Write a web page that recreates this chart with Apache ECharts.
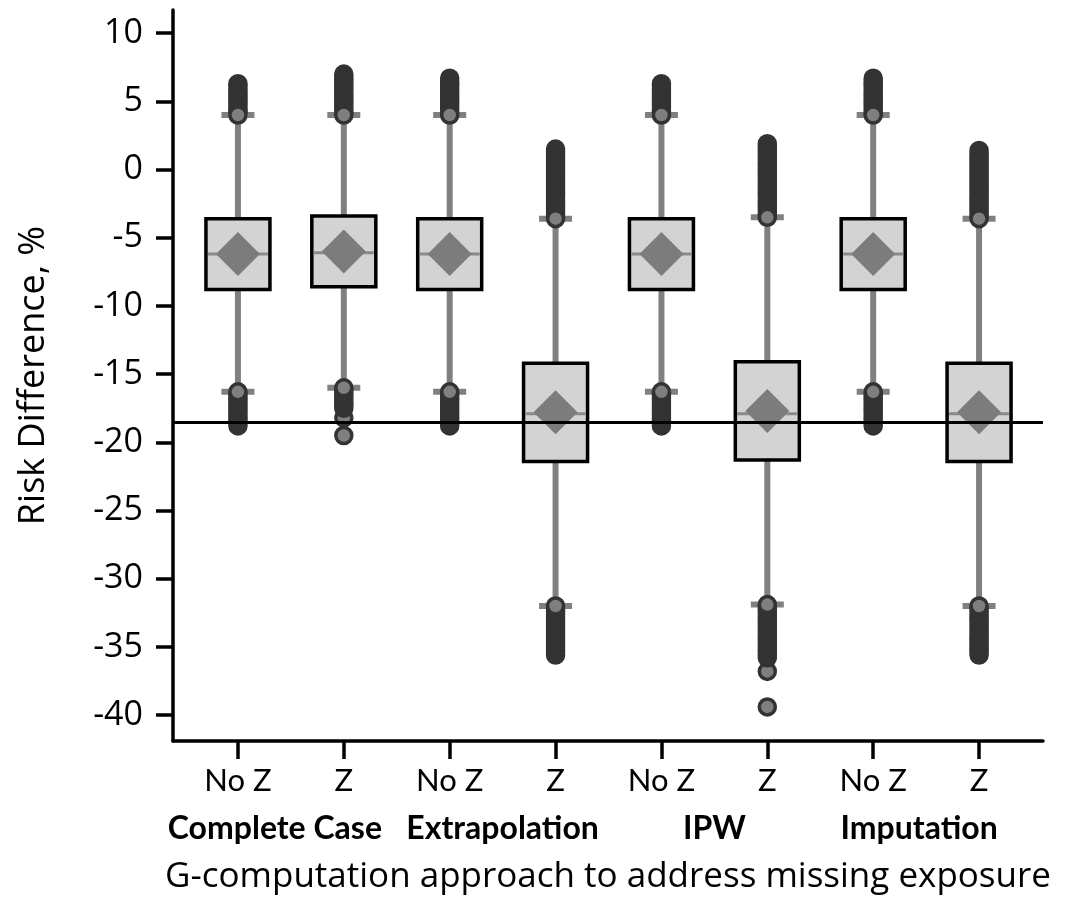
<!DOCTYPE html>
<html>
<head>
<meta charset="utf-8">
<script src="https://cdn.jsdelivr.net/npm/echarts@6/dist/echarts.min.js"></script>
<style>
html,body{margin:0;padding:0;background:#fff;}
#chart{width:1073px;height:901px;}
</style>
</head>
<body>
<div id="chart"></div>
<script>
// ---- Data ----
const categories = ['No Z', 'Z', 'No Z', 'Z', 'No Z', 'Z', 'No Z', 'Z'];
const groups = ['Complete Case', 'Extrapolation', 'IPW', 'Imputation'];
const yTicks = [10, 5, 0, -5, -10, -15, -20, -25, -30, -35, -40];

const lowWhisker  = [-16.3, -16.0, -16.3, -32.0, -16.3, -31.9, -16.3, -32.0];
const q1          = [-8.8, -8.6, -8.8, -21.4, -8.8, -21.3, -8.8, -21.4];
const median      = [-6.2, -6.1, -6.2, -17.9, -6.2, -17.9, -6.2, -17.9];
const q3          = [-3.6, -3.4, -3.6, -14.2, -3.6, -14.1, -3.6, -14.2];
const highWhisker = [4.0, 4.0, 4.0, -3.6, 4.0, -3.5, 4.0, -3.6];
const means       = [-6.2, -6.0, -6.2, -17.8, -6.2, -17.7, -6.2, -17.8];

// outliers listed from farthest to nearest the whisker
const upperOutliers = [
  [6.3, 6.1, 5.9, 5.7, 5.5, 5.3, 5.1, 4.9, 4.7, 4.5, 4.3, 4.2, 4.0],
  [7.0, 6.8, 6.6, 6.4, 6.2, 6.0, 5.8, 5.6, 5.4, 5.2, 5.0, 4.8, 4.6, 4.4, 4.2, 4.0],
  [6.7, 6.5, 6.3, 6.1, 5.9, 5.7, 5.5, 5.3, 5.1, 4.9, 4.7, 4.5, 4.3, 4.1, 4.0],
  [1.5, 1.3, 1.1, 0.9, 0.7, 0.5, 0.3, 0.1, -0.1, -0.3, -0.5, -0.7, -0.9, -1.1, -1.3, -1.5, -1.7, -1.9, -2.1, -2.3, -2.5, -2.7, -2.9, -3.1, -3.3, -3.5, -3.6],
  [6.3, 6.1, 5.9, 5.7, 5.5, 5.3, 5.1, 4.9, 4.7, 4.5, 4.3, 4.2, 4.0],
  [1.9, 1.7, 1.5, 1.3, 1.1, 0.9, 0.7, 0.5, 0.3, 0.1, -0.1, -0.3, -0.5, -0.7, -0.9, -1.1, -1.3, -1.5, -1.7, -1.9, -2.1, -2.3, -2.5, -2.7, -2.9, -3.1, -3.3, -3.5],
  [6.7, 6.5, 6.3, 6.1, 5.9, 5.7, 5.5, 5.3, 5.1, 4.9, 4.7, 4.5, 4.3, 4.1, 4.0],
  [1.4, 1.2, 1.0, 0.8, 0.6, 0.4, 0.2, 0.0, -0.2, -0.4, -0.6, -0.8, -1.0, -1.2, -1.4, -1.6, -1.8, -2.0, -2.2, -2.4, -2.6, -2.8, -3.0, -3.2, -3.4, -3.6]
];
const lowerOutliers = [
  [-18.8, -18.6, -18.4, -18.2, -18.0, -17.8, -17.6, -17.4, -17.2, -17.0, -16.8, -16.6, -16.4, -16.3],
  [-19.5, -18.2, -17.5, -17.3, -17.1, -16.9, -16.7, -16.5, -16.3, -16.1, -16.0],
  [-18.8, -18.6, -18.4, -18.2, -18.0, -17.8, -17.6, -17.4, -17.2, -17.0, -16.8, -16.6, -16.4, -16.3],
  [-35.6, -35.4, -35.2, -35.0, -34.8, -34.6, -34.4, -34.2, -34.0, -33.8, -33.6, -33.4, -33.2, -33.0, -32.8, -32.6, -32.4, -32.2, -32.0],
  [-18.8, -18.6, -18.4, -18.2, -18.0, -17.8, -17.6, -17.4, -17.2, -17.0, -16.8, -16.6, -16.4, -16.3],
  [-39.4, -36.8, -35.8, -35.6, -35.4, -35.2, -35.0, -34.8, -34.6, -34.4, -34.2, -34.0, -33.8, -33.6, -33.4, -33.2, -33.0, -32.8, -32.6, -32.4, -32.2, -32.0, -31.9],
  [-18.8, -18.6, -18.4, -18.2, -18.0, -17.8, -17.6, -17.4, -17.2, -17.0, -16.8, -16.6, -16.4, -16.3],
  [-35.6, -35.4, -35.2, -35.0, -34.8, -34.6, -34.4, -34.2, -34.0, -33.8, -33.6, -33.4, -33.2, -33.0, -32.8, -32.6, -32.4, -32.2, -32.0]
];
const referenceLine = -18.5;
const yAxisTitle = 'Risk Difference, %';
const xAxisTitle = 'G-computation approach to address missing exposure';

// ---- Build series data ----
const boxData = categories.map((c, i) => [i, lowWhisker[i], q1[i], median[i], q3[i], highWhisker[i]]);
const outlierData = [];
categories.forEach((c, i) => {
  upperOutliers[i].forEach(v => outlierData.push([i, v]));
  lowerOutliers[i].forEach(v => outlierData.push([i, v]));
});
const meanData = means.map((v, i) => [i, v]);

const Y_MIN = -41.9, Y_MAX = 11.7;
const GRID_TOP = 10, GRID_BOTTOM = 160;

function renderBox(params, api) {
  const x = api.value(0);
  const lo = api.coord([x, api.value(1)]);
  const b1 = api.coord([x, api.value(2)]);
  const md = api.coord([x, api.value(3)]);
  const b3 = api.coord([x, api.value(4)]);
  const hi = api.coord([x, api.value(5)]);
  const cx = lo[0];
  const bw = 64, cw = 33;
  const grey = '#808080';
  return {
    type: 'group',
    children: [
      { type: 'line', shape: { x1: cx, y1: hi[1], x2: cx, y2: lo[1] }, style: { stroke: grey, lineWidth: 6 } },
      { type: 'line', shape: { x1: cx - cw / 2, y1: hi[1], x2: cx + cw / 2, y2: hi[1] }, style: { stroke: grey, lineWidth: 6 } },
      { type: 'line', shape: { x1: cx - cw / 2, y1: lo[1], x2: cx + cw / 2, y2: lo[1] }, style: { stroke: grey, lineWidth: 6 } },
      { type: 'rect', shape: { x: cx - bw / 2, y: b3[1], width: bw, height: b1[1] - b3[1] }, style: { fill: '#d3d3d3', stroke: '#000', lineWidth: 3.5 } },
      { type: 'line', shape: { x1: cx - bw / 2 + 2, y1: md[1], x2: cx + bw / 2 - 2, y2: md[1] }, style: { stroke: '#8a8a8a', lineWidth: 3 } }
    ]
  };
}

const chart = echarts.init(document.getElementById('chart'), null, { renderer: 'canvas' });
chart.setOption({
  backgroundColor: '#ffffff',
  animation: false,
  grid: [
    { left: 173, right: 30, top: GRID_TOP, bottom: GRID_BOTTOM },
    { left: 185, right: 41, top: GRID_TOP, bottom: GRID_BOTTOM }
  ],
  xAxis: [
    {
      gridIndex: 0, type: 'value', min: 0, max: 1, position: 'bottom',
      axisLine: { show: true, onZero: false, lineStyle: { color: '#000', width: 3.5 } },
      axisTick: { show: false }, axisLabel: { show: false }, splitLine: { show: false },
      name: xAxisTitle, nameLocation: 'middle', nameGap: 119,
      nameTextStyle: { fontFamily: 'Open Sans', fontSize: 35, color: '#000' }
    },
    {
      gridIndex: 1, type: 'category', data: categories, position: 'bottom',
      axisLine: { show: false, onZero: false },
      axisTick: { show: true, alignWithLabel: true, length: 18, lineStyle: { color: '#000', width: 3.5 } },
      axisLabel: { interval: 0, margin: 24, fontFamily: 'Lato', fontSize: 31, color: '#000' },
      splitLine: { show: false }
    },
    {
      gridIndex: 1, type: 'category', data: groups, position: 'bottom',
      axisLine: { show: false, onZero: false }, axisTick: { show: false },
      axisLabel: {
        interval: 0, margin: 72, color: '#000',
        formatter: function (v) {
          if (v === 'Complete Case') return '{cc|' + v + '}';
          if (v === 'Imputation') return '{im|' + v + '}';
          return '{g|' + v + '}';
        },
        rich: {
          g: { fontFamily: 'Lato', fontWeight: 'bold', fontSize: 32, color: '#000' },
          cc: { fontFamily: 'Lato', fontWeight: 'bold', fontSize: 32, color: '#000', padding: [0, 32, 0, 0] },
          im: { fontFamily: 'Lato', fontWeight: 'bold', fontSize: 32, color: '#000', padding: [0, 14, 0, 0] }
        }
      },
      splitLine: { show: false }
    }
  ],
  yAxis: [
    {
      gridIndex: 0, type: 'value', min: Y_MIN, max: Y_MAX,
      axisLine: { show: true, onZero: false, lineStyle: { color: '#000', width: 3.5 } },
      axisTick: { show: true, customValues: yTicks, length: 17, lineStyle: { color: '#000', width: 3.5 } },
      axisLabel: { customValues: yTicks, margin: 30, fontFamily: 'Open Sans', fontSize: 34, color: '#000' },
      splitLine: { show: false },
      name: yAxisTitle, nameLocation: 'middle', nameGap: 121,
      nameTextStyle: { fontFamily: 'Open Sans', fontSize: 36, color: '#000' }
    },
    { gridIndex: 1, type: 'value', min: Y_MIN, max: Y_MAX, show: false }
  ],
  series: [
    {
      type: 'custom', xAxisIndex: 1, yAxisIndex: 1, z: 2,
      renderItem: renderBox, data: boxData,
      encode: { x: 0, y: [1, 2, 3, 4, 5] }
    },
    {
      type: 'scatter', xAxisIndex: 1, yAxisIndex: 1, z: 3,
      data: outlierData, symbol: 'circle', symbolSize: 16,
      itemStyle: { color: '#7f7f7f', borderColor: '#333', borderWidth: 3.5, opacity: 1 }
    },
    {
      type: 'scatter', xAxisIndex: 1, yAxisIndex: 1, z: 4,
      data: meanData, symbol: 'diamond', symbolSize: 44,
      itemStyle: { color: '#7c7c7c', opacity: 1 }
    },
    {
      type: 'line', xAxisIndex: 0, yAxisIndex: 0, z: 6, data: [],
      markLine: {
        silent: true, symbol: 'none', label: { show: false },
        lineStyle: { color: '#000', width: 3, type: 'solid' },
        data: [{ yAxis: referenceLine }]
      }
    }
  ]
});
</script>
</body>
</html>
